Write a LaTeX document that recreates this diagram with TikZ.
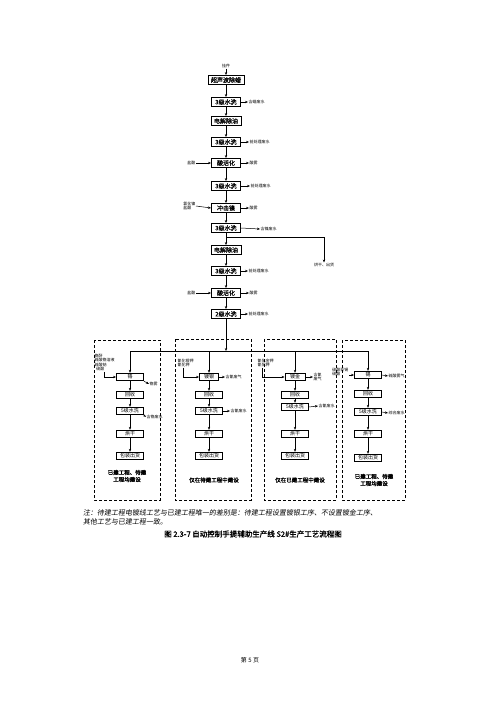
\documentclass[tikz,border=0pt]{standalone}
\usepackage{fontspec}
\setmainfont{Noto Sans CJK SC}
\newfontfamily\notefont[FakeSlant=0.15]{Noto Sans CJK SC}
\newfontfamily\boldfont[FakeBold=1.5]{Noto Sans CJK SC}
\newfontfamily\semifont[FakeBold=0.6]{Noto Sans CJK SC}
\usetikzlibrary{arrows.meta}
\begin{document}
\begin{tikzpicture}[x=1pt,y=-1pt,
 proc/.style={draw,line width=0.9pt,font=\semifont\fontsize{6}{6}\selectfont,inner xsep=3pt,inner ysep=1pt,minimum width=29pt,minimum height=9pt},
 sub/.style={draw,line width=0.8pt,font=\fontsize{5}{5}\selectfont,inner xsep=2pt,inner ysep=0.5pt,minimum width=27pt,minimum height=7.5pt},
 lbl/.style={font=\fontsize{4}{4.6}\selectfont,inner sep=0.5pt,align=left},
 arr/.style={-{Stealth[length=3pt,width=2.4pt]},line width=0.5pt},
 ln/.style={line width=0.5pt},
 zone/.style={draw,dash pattern=on 3pt off 2pt,line width=0.7pt},
 zonecap/.style={font=\boldfont\fontsize{5.5}{7}\selectfont,align=center}
]
\useasboundingbox[fill=white] (0,0) rectangle (500,707);

% main column
\node[lbl] (top) at (226,66) {挂件};
\node[proc] (m1) at (226,80) {超声波除蜡};
\node[proc] (m2) at (226,102) {3级水洗};
\node[proc] (m3) at (226,121) {电解除油};
\node[proc] (m4) at (226,142) {3级水洗};
\node[proc] (m5) at (226,163) {酸活化};
\node[proc] (m6) at (226,186) {3级水洗};
\node[proc] (m7) at (226,208) {冲击镍};
\node[proc] (m8) at (226,228) {3级水洗};
\node[proc] (m9) at (226,250) {电解除油};
\node[proc] (m10) at (226,271) {3级水洗};
\node[proc] (m11) at (226,293) {酸活化};
\node[proc] (m12) at (226,314) {2级水洗};

\draw[arr] (top) -- (m1);
\foreach \a/\b in {m1/m2,m2/m3,m3/m4,m4/m5,m5/m6,m6/m7,m7/m8,m8/m9,m9/m10,m10/m11,m11/m12}
  \draw[arr] (\a) -- (\b);

% side outputs
\node[lbl,anchor=west] (o2) at (248,102) {含蜡废水};
\node[lbl,anchor=west] (o4) at (249,142) {前处理废水};
\node[lbl,anchor=west] (o5) at (249,163) {酸雾};
\node[lbl,anchor=west] (o6) at (250,186) {前处理废水};
\node[lbl,anchor=west] (o7) at (249,208) {酸雾};
\node[lbl,anchor=west] (o8) at (260,229) {含镍废水};
\node[lbl,anchor=west] (o10) at (248,271) {前处理废水};
\node[lbl,anchor=west] (o11) at (249,293) {酸雾};
\node[lbl,anchor=west] (o12) at (248,314) {前处理废水};
\foreach \a/\b in {m2/o2,m4/o4,m5/o5,m6/o6,m7/o7,m8/o8,m10/o10,m11/o11,m12/o12}
  \draw[arr] (\a.east) -- (\b.west);

% side inputs
\node[lbl,anchor=east] (i5) at (196,163) {盐酸};
\node[lbl,anchor=east] (i7) at (196,206) {氯化镍\\盐酸};
\node[lbl,anchor=east] (i11) at (196,293) {盐酸};
\draw[arr] (i5.east) -- (m5.west);
\draw[arr] (i7.east) -- (m7.west);
\draw[arr] (i11.east) -- (m11.west);

% branch to drying
\coordinate (br) at (226,237);
\node[lbl] (dry) at (324,265) {烘干、出货};
\draw[arr] (br) -| (dry.north);

% distribution line
\coordinate (j) at (226,351);
\coordinate (jA) at (130,351);
\coordinate (jB) at (209,351);
\coordinate (jC) at (295,351);
\coordinate (jD) at (368,351);
\draw[arr] (m12) -- (j);
\draw[ln] (jA) -- (jD);

% dashed zones
\draw[zone] (94,340) rectangle (160,500);
\draw[zone] (175,339) rectangle (251,500);
\draw[zone] (264,339) rectangle (336,500);
\draw[zone] (342,340) rectangle (405,500);

% zone A
\node[sub] (a1) at (130,377) {铬};
\node[sub] (a2) at (130,395) {回收};
\node[sub] (a3) at (130,411) {5级水洗};
\node[sub] (a4) at (130,434) {烘干};
\node[sub] (a5) at (130,456) {包装出货};
\node[lbl,anchor=north west] (ai) at (94,353) {铬酐\\硫酸铬溶液\\硫酸钠\\\ \ 硫酸};
\node[lbl,anchor=west] (ao1) at (149,384) {铬雾};
\node[lbl,anchor=west] (ao3) at (146,417) {含铬废水};
\node[zonecap] (ac) at (127,476) {已建工程、待建\\工程均建设};
\draw[arr] (jA) -- (a1);
\draw[arr] (ai.south west) ++(10,0) |- (a1.west);
\draw[arr] (a1.south east) -- (ao1.west);
\draw[arr] (a3.south east) -- (ao3.west);

% zone B
\node[sub,minimum width=19pt] (b1) at (209,377) {镀银};
\node[sub] (b2) at (209,395) {回收};
\node[sub] (b3) at (209,411) {5级水洗};
\node[sub] (b4) at (209,434) {烘干};
\node[sub] (b5) at (209,456) {包装出货};
\node[lbl,anchor=north west] (bi) at (177,358) {氰化银钾\\氰化钾};
\node[lbl,anchor=west] (bo1) at (225,377) {含氰废气};
\node[lbl,anchor=west] (bo3) at (230,411) {含氰废水};
\node[zonecap] (bc) at (214,480) {仅在待建工程中建设};
\draw[arr] (jB) -- (b1);
\draw[arr] (bi.south west) ++(6,0) |- (b1.west);
\draw[arr] (b1.east) -- (bo1.west);
\draw[arr] (b3.east) -- (bo3.west);

% zone C
\node[sub,minimum width=20pt] (c1) at (295,377) {镀金};
\node[sub] (c2) at (295,395) {回收};
\node[sub] (c3) at (295,407) {5级水洗};
\node[sub] (c4) at (295,434) {烘干};
\node[sub] (c5) at (295,456) {包装出货};
\node[lbl,anchor=north west] (ci) at (257,358) {氰化金钾\\氰化钾};
\node[lbl,anchor=west] (co1) at (313,377) {含氰\\废气};
\node[lbl,anchor=west] (co3) at (318,406) {含氰废水};
\node[zonecap] (cc) at (300,480) {仅在已建工程中建设};
\draw[arr] (jC) -- (c1);
\draw[arr] (ci.south west) ++(5,0) |- (c1.west);
\draw[arr] (c1.east) -- (co1.west);
\draw[arr] (c3.east) -- (co3.west);

% zone D
\node[sub] (d1) at (368,375) {锡};
\node[sub] (d2) at (368,394) {回收};
\node[sub] (d3) at (368,412) {5级水洗};
\node[sub] (d4) at (368,434) {烘干};
\node[sub] (d5) at (368,458) {包装出货};
\node[lbl,anchor=east] (di) at (349,372) {硫酸亚锡\\硫酸};
\node[lbl,anchor=west] (do1) at (388,376) {硫酸雾气};
\node[lbl,anchor=west] (do3) at (388,413) {综合废水};
\node[zonecap] (dc) at (374,480) {已建工程、待建\\工程均建设};
\draw[arr] (jD) -- (d1);
\draw[arr] (di.east) ++(0,3) -- (d1.west);
\draw[arr] (d1.east) -- (do1.west);
\draw[arr] (d3.east) -- (do3.west);

\foreach \p in {a,b,c,d}{
  \draw[arr] (\p1) -- (\p2);
  \draw[arr] (\p2) -- (\p3);
  \draw[arr] (\p3) -- (\p4);
  \draw[arr] (\p4) -- (\p5);
}

% note & caption
\node[anchor=west,font=\notefont\fontsize{7}{9}\selectfont,inner sep=0] (n1) at (83,513) {注：待建工程电镀线工艺与已建工程唯一的差别是：待建工程设置镀银工序、不设置镀金工序、};
\node[anchor=west,font=\notefont\fontsize{7}{9}\selectfont,inner sep=0] (n2) at (83,522) {其他工艺与已建工程一致。};
\node[font=\boldfont\fontsize{7.5}{8}\selectfont] (caption) at (253,534) {图 2.3-7 自动控制手提辅助生产线 S2\#生产工艺流程图};
\node[font=\fontsize{6}{7}\selectfont] (page) at (250,660) {第 5 页};
\end{tikzpicture}
\end{document}
